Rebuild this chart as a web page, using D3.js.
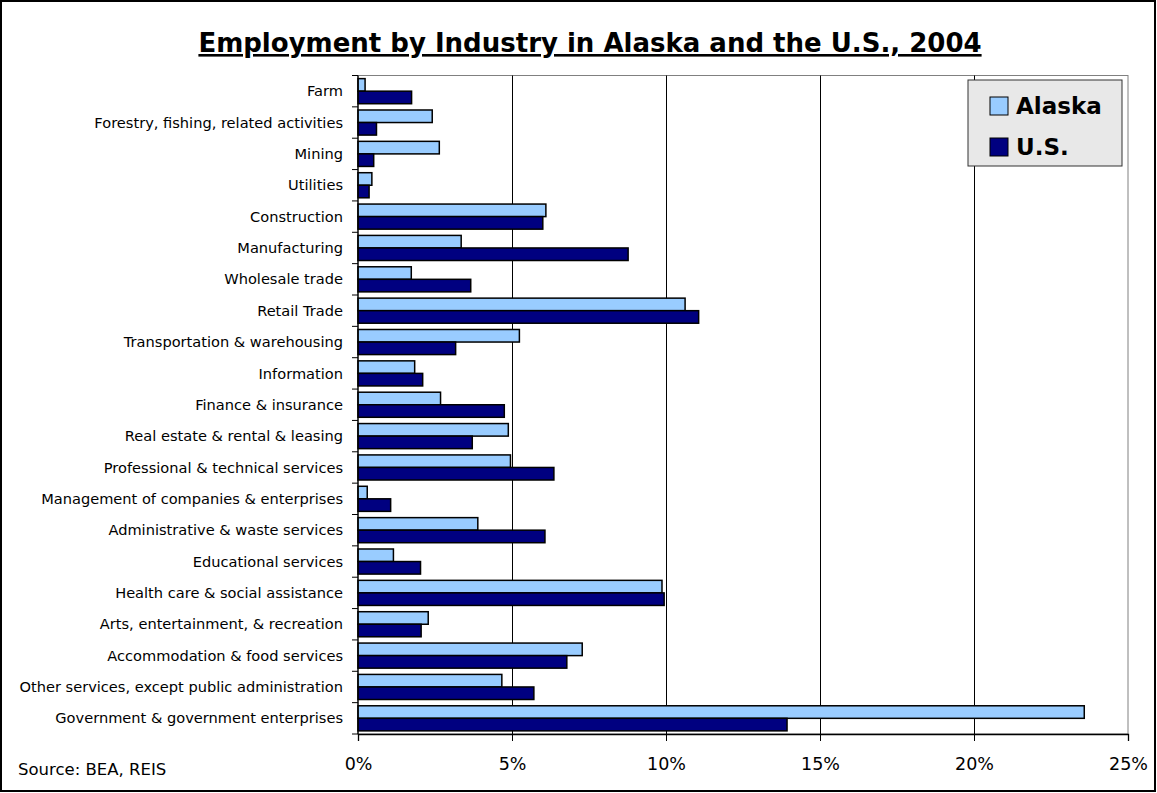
<!DOCTYPE html>
<html>
<head>
<meta charset="utf-8">
<script src="https://cdn.jsdelivr.net/npm/d3@7"></script>
<style>
  body { margin: 0; background: #fff; }
  svg { display: block; }
</style>
</head>
<body>
<div id="chart"></div>
<script>
const categories = [
  "Farm",
  "Forestry, fishing, related activities",
  "Mining",
  "Utilities",
  "Construction",
  "Manufacturing",
  "Wholesale trade",
  "Retail Trade",
  "Transportation & warehousing",
  "Information",
  "Finance & insurance",
  "Real estate & rental & leasing",
  "Professional & technical services",
  "Management of companies & enterprises",
  "Administrative & waste services",
  "Educational services",
  "Health care & social assistance",
  "Arts, entertainment, & recreation",
  "Accommodation & food services",
  "Other services, except public administration",
  "Government & government enterprises"
];
const alaska = [0.23, 2.41, 2.64, 0.45, 6.1, 3.35, 1.73, 10.62, 5.24, 1.84, 2.68,
  4.88, 4.95, 0.3, 3.89, 1.15, 9.87, 2.28, 7.28, 4.67, 23.58];
const us = [1.74, 0.6, 0.51, 0.36, 6.0, 8.77, 3.66, 11.06, 3.17, 2.1, 4.75,
  3.71, 6.36, 1.06, 6.07, 2.03, 9.94, 2.05, 6.78, 5.71, 13.93];
const seriesNames = ["Alaska", "U.S."];
const seriesColors = ["#99CCFF", "#000080"];
const xTicks = [0, 5, 10, 15, 20, 25];

const W = 1157, H = 793;
const margin = { top: 75.5, right: 29, bottom: 59, left: 358 };
const innerW = W - margin.left - margin.right;
const innerH = H - margin.top - margin.bottom;

const svg = d3.select("#chart").append("svg")
  .attr("width", W)
  .attr("height", H);

// outer frame
svg.append("rect")
  .attr("x", 1).attr("y", 1)
  .attr("width", W - 3).attr("height", H - 3)
  .attr("fill", "#fff")
  .attr("stroke", "#000")
  .attr("stroke-width", 2);

// title
svg.append("text")
  .attr("x", 590)
  .attr("y", 52)
  .attr("text-anchor", "middle")
  .style("font-family", "DejaVu Sans, Verdana, sans-serif")
  .style("font-weight", "bold")
  .style("font-size", "26px")
  .style("text-decoration", "underline")
  .text("Employment by Industry in Alaska and the U.S., 2004");

const g = svg.append("g")
  .attr("transform", `translate(${margin.left},${margin.top})`);

const x = d3.scaleLinear().domain([0, 25]).range([0, innerW]);
const y = d3.scaleBand().domain(categories).range([0, innerH]).paddingInner(0.2).paddingOuter(0.1);
const ySub = d3.scaleBand().domain(seriesNames).range([0, y.bandwidth()]);

// plot border (gray top/right)
g.append("rect")
  .attr("width", innerW).attr("height", innerH)
  .attr("fill", "none")
  .attr("stroke", "#808080")
  .attr("stroke-width", 1);

// gridlines
g.append("g")
  .selectAll("line")
  .data(xTicks.slice(1, -1))
  .join("line")
  .attr("x1", d => Math.round(x(d)) + 0.5).attr("x2", d => Math.round(x(d)) + 0.5)
  .attr("y1", 0).attr("y2", innerH)
  .attr("stroke", "#000")
  .attr("stroke-width", 1);

// bars
const rows = categories.map((c, i) => ({ cat: c, values: [alaska[i], us[i]] }));
const grp = g.append("g").selectAll("g")
  .data(rows)
  .join("g")
  .attr("transform", d => `translate(0,${y(d.cat)})`);

grp.selectAll("rect")
  .data(d => d.values.map((v, j) => ({ key: seriesNames[j], value: v, color: seriesColors[j] })))
  .join("rect")
  .attr("x", 0)
  .attr("y", d => ySub(d.key))
  .attr("width", d => x(d.value))
  .attr("height", ySub.bandwidth())
  .attr("fill", d => d.color)
  .attr("stroke", "#000")
  .attr("stroke-width", 1.5);

// y axis with ticks at category boundaries
g.append("line")
  .attr("x1", 0).attr("x2", 0).attr("y1", 0).attr("y2", innerH)
  .attr("stroke", "#000").attr("stroke-width", 1.3);
g.append("g").selectAll("line")
  .data(d3.range(categories.length + 1))
  .join("line")
  .attr("x1", -6).attr("x2", 0)
  .attr("y1", i => i * innerH / categories.length)
  .attr("y2", i => i * innerH / categories.length)
  .attr("stroke", "#000");
g.append("g").selectAll("text")
  .data(categories)
  .join("text")
  .attr("x", -15)
  .attr("y", d => y(d) + y.bandwidth() / 2)
  .attr("dy", "0.35em")
  .attr("text-anchor", "end")
  .style("font-family", "DejaVu Sans, Verdana, sans-serif")
  .style("font-size", "14.6px")
  .text(d => d);

// x axis
const xAxis = g.append("g")
  .attr("transform", `translate(0,${innerH})`)
  .call(d3.axisBottom(x).tickValues(xTicks).tickFormat(d => d + "%").tickSize(7).tickPadding(17));
xAxis.select(".domain").attr("stroke", "#000").attr("stroke-width", 1.3);
xAxis.selectAll("text")
  .style("font-family", "DejaVu Sans, Verdana, sans-serif")
  .style("font-size", "17.5px")
  .attr("fill", "#000");

// source
svg.append("text")
  .attr("x", 18)
  .attr("y", 775)
  .style("font-family", "DejaVu Sans, Verdana, sans-serif")
  .style("font-size", "16.5px")
  .text("Source: BEA, REIS");

// legend
const legend = svg.append("g").attr("transform", "translate(968,80)");
legend.append("rect")
  .attr("width", 154).attr("height", 86)
  .attr("fill", "#e8e8e8")
  .attr("stroke", "#333")
  .attr("stroke-width", 1);
const items = legend.selectAll("g.item")
  .data(seriesNames)
  .join("g")
  .attr("class", "item")
  .attr("transform", (d, i) => `translate(22,${17 + i * 41})`);
items.append("rect")
  .attr("width", 18).attr("height", 18)
  .attr("fill", (d, i) => seriesColors[i])
  .attr("stroke", "#000");
items.append("text")
  .attr("x", 26)
  .attr("y", 17)
  .style("font-family", "DejaVu Sans, Verdana, sans-serif")
  .style("font-weight", "bold")
  .style("font-size", "23px")
  .text(d => d);
</script>
</body>
</html>
